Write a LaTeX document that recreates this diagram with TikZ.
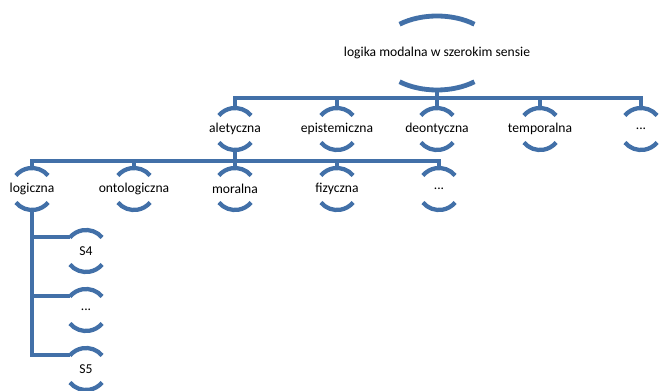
\documentclass[tikz,border=0pt]{standalone}
\usepackage{fontspec}
\setmainfont{Carlito}
\usetikzlibrary{shapes.geometric}
\definecolor{hblue}{RGB}{66,112,168}
\tikzset{lvl/.style={circle,minimum size=31.5pt,inner sep=0pt,font=\fontsize{10.2}{12}\selectfont},
    rootnode/.style={ellipse,minimum width=89pt,minimum height=55.5pt,inner sep=0pt,font=\fontsize{10.2}{12}\selectfont},
    arcline/.style={draw=hblue,line width=3.2pt},
    rootarc/.style={draw=hblue,line width=3.6pt},
    conn/.style={draw=hblue,line width=3pt}}
\newcommand{\lbl}[1]{\makebox[0pt]{#1}}

\begin{document}
\begin{tikzpicture}[x=0.75pt,y=0.75pt]
        \useasboundingbox (0,0) rectangle (659,-391);

        \node[rootnode] (root) at (437,-53) {\lbl{logika modalna w szerokim sensie}};

        \node[lvl] (alet) at (235,-129) {\lbl{aletyczna}};
        \node[lvl] (epis) at (337,-129) {\lbl{epistemiczna}};
        \node[lvl] (deon) at (437,-129) {\lbl{deontyczna}};
        \node[lvl] (temp) at (540,-129) {\lbl{temporalna}};
        \node[lvl] (etc1) at (641,-129) {\lbl{...}};

        \node[lvl] (logi) at (32,-189) {\lbl{logiczna}};
        \node[lvl] (onto) at (134,-189) {\lbl{ontologiczna}};
        \node[lvl] (mor) at (235,-189) {\lbl{moralna}};
        \node[lvl] (fiz) at (337,-189) {\lbl{fizyczna}};
        \node[lvl] (etc2) at (439,-189) {\lbl{...}};

        \node[lvl] (s4) at (86,-251) {\lbl{S4}};
        \node[lvl] (etc3) at (86,-310) {\lbl{...}};
        \node[lvl] (s5) at (86,-369) {\lbl{S5}};

        \coordinate (bar1) at (0,-98);
        \coordinate (bar2) at (0,-161);

        \foreach \n in {alet,epis,deon,temp,etc1}
            \draw[conn] (root.south) -- (root.south |- bar1) -| (\n.north);
        \foreach \n in {logi,onto,mor,fiz,etc2}
            \draw[conn] (alet.south) -- (alet.south |- bar2) -| (\n.north);
        \foreach \n in {s4,etc3,s5}
            \draw[conn] (logi.south) |- (\n.140);

        \draw[rootarc] (root.center) ++(51:59.5 and 37) arc[start angle=51,end angle=129,x radius=59.5,y radius=37];
        \draw[rootarc] (root.center) ++(231:59.5 and 37) arc[start angle=231,end angle=309,x radius=59.5,y radius=37];
        \foreach \n in {alet,epis,deon,temp,etc1,logi,onto,mor,fiz,etc2,s4,etc3,s5}{
            \draw[arcline] (\n.center) ++(40:21) arc[start angle=40,end angle=140,radius=21];
            \draw[arcline] (\n.center) ++(220:21) arc[start angle=220,end angle=320,radius=21];
        }
    \end{tikzpicture}
\end{document}
